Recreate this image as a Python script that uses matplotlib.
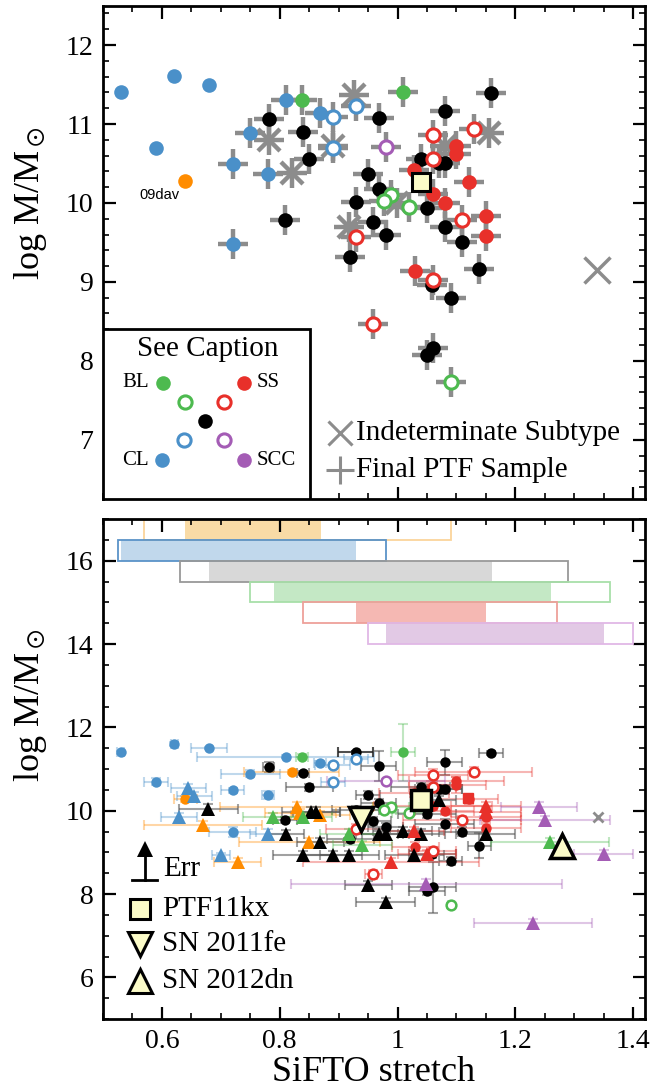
import matplotlib
matplotlib.use('Agg')
import matplotlib.pyplot as plt
from matplotlib.ticker import MultipleLocator
from matplotlib.patches import Rectangle

plt.rcParams['font.family'] = ['Liberation Serif', 'DejaVu Serif']
plt.rcParams['mathtext.fontset'] = 'stix'

C_CL = '#4a90c9'
C_BL = '#4dba4f'
C_SS = '#e8302a'
C_SCC = '#a45cb5'
C_OR = '#ff8c00'
C_K = '#000000'
C_GR = '#8c8c8c'
C_YEL = '#fbfbc8'

# ---------------- data: PTF sample (circles) ----------------
cl_x = [0.530, 0.621, 0.680, 0.590, 0.720, 0.720, 0.750, 0.780, 0.810, 0.869]
cl_y = [11.40, 11.61, 11.50, 10.70, 10.49, 9.48, 10.89, 10.37, 11.30, 11.14]
cl_xerr = [0.006, 0.006, 0.03, 0.02, 0.02, 0.04, 0.05, 0.01, 0.15, 0.01]
cl_yerr = [0.03, 0.05, 0.03, 0.08, 0.06, 0.12, 0.08, 0.10, 0.03, 0.05]
cl_cross = [0, 0, 0, 0, 1, 1, 1, 1, 1, 1]

clo_x = [0.890, 0.929, 0.890]
clo_y = [11.09, 11.23, 10.70]
clo_xerr = [0.03, 0.02, 0.02]
clo_yerr = [0.05, 0.05, 0.05]

bl_x = [0.838, 1.009]
bl_y = [11.30, 11.40]
bl_xerr = [0.01, 0.02]
bl_yerr = [0.05, 0.68]

blo_x = [0.989, 0.977, 1.020, 1.090]
blo_y = [10.10, 10.02, 9.95, 7.73]
blo_xerr = [0.03, 0.02, 0.03, 0.005]
blo_yerr = [0.05, 0.05, 0.05, 0.06]

k_x = [0.781, 0.839, 0.850, 0.809, 0.968, 0.950, 0.968, 0.929, 0.959, 0.920,
       1.159, 1.080, 1.039, 1.080, 1.070, 1.050, 0.980, 1.080, 1.110, 1.139,
       1.059, 1.090, 1.060, 1.050]
k_y = [11.06, 10.90, 10.56, 9.78, 11.08, 10.37, 10.18, 10.01, 9.76, 9.32,
       11.39, 11.16, 10.56, 10.51, 10.51, 9.93, 9.60, 9.69, 9.50, 9.16,
       8.96, 8.79, 8.16, 8.07]
k_xerr = [0.01, 0.01, 0.04, 0.02, 0.03, 0.02, 0.03, 0.04, 0.03, 0.04,
          0.02, 0.03, 0.05, 0.03, 0.04, 0.05, 0.03, 0.05, 0.04, 0.02,
          0.04, 0.02, 0.04, 0.03]
k_yerr = [0.12, 0.05, 0.08, 0.08, 0.36, 0.10, 0.10, 0.10, 0.10, 0.10,
          0.05, 0.30, 0.10, 0.10, 0.10, 0.10, 0.10, 0.10, 0.10, 0.30,
          0.10, 0.10, 0.62, 0.10]

sso_x = [0.929, 1.129, 1.060, 1.060, 1.109, 1.060, 0.959]
sso_y = [9.57, 10.94, 10.86, 10.56, 9.78, 9.03, 8.47]
sso_xerr = [0.05, 0.10, 0.06, 0.04, 0.10, 0.04, 0.015]
sso_yerr = [0.10, 0.10, 0.15, 0.10, 0.10, 0.10, 0.10]

ss_x = [1.100, 1.100, 1.028, 1.121, 1.060, 1.080, 1.150, 1.150, 1.030]
ss_y = [10.72, 10.62, 10.42, 10.27, 10.11, 10.00, 9.84, 9.58, 9.14]
ss_xerr = [0.08, 0.05, 0.06, 0.05, 0.10, 0.05, 0.06, 0.06, 0.04]
ss_yerr = [0.10, 0.20, 0.10, 0.10, 0.10, 0.10, 0.10, 0.10, 0.10]

scco_x = [0.980]
scco_y = [10.71]
scco_xerr = [0.10]
scco_yerr = [0.05]

or_x = [0.640]
or_y = [10.28]
or_xerr = [0.02]
or_yerr = [0.08]

# indeterminate subtype in final sample (asterisks) and outside (big x)
ind_x = [0.926, 0.781, 0.820, 0.890, 0.917, 1.156, 1.081, 0.999]
ind_y = [11.37, 10.80, 10.38, 10.72, 9.70, 10.89, 10.72, 10.00]
indx_x = [1.339]
indx_y = [9.15]

ptf11kx_x = [1.040]
ptf11kx_y = [10.26]

# bottom-panel only extras
or2_x = [0.820]
or2_y = [10.93]
or2_xerr = [0.08]
k2_x = [0.929]
k2_y = [11.40]
k2_xerr = [0.03]
sq_x = [1.119]
sq_y = [10.30]
gx_x = [1.340]
gx_y = [9.85]

# ---------------- data: comparison sample (triangles) ----------------
tcl_x = [0.645, 0.655, 0.629, 0.780, 0.700]
tcl_y = [10.55, 10.35, 9.85, 9.45, 8.93]
tcl_xerr = [0.03, 0.03, 0.03, 0.03, 0.015]
tcl_yerr = [0.10, 0.10, 0.10, 0.10, 0.05]

tor_x = [0.670, 0.729, 0.829, 0.835, 0.869, 0.850]
tor_y = [9.65, 8.77, 10.10, 9.95, 9.90, 9.25]
tor_xerr = [0.10, 0.04, 0.13, 0.06, 0.05, 0.12]
tor_yerr = [0.10, 0.10, 0.10, 0.10, 0.10, 0.10]

tk_x = [0.679, 0.811, 0.853, 0.862, 0.869, 0.839, 0.890, 0.918, 0.950, 0.980,
        0.969, 0.980, 1.009, 1.040, 1.028, 1.070, 1.150]
tk_y = [10.05, 9.43, 9.98, 9.98, 9.25, 8.93, 8.93, 8.93, 8.22, 7.80,
        9.45, 9.45, 9.52, 9.45, 8.93, 10.25, 9.43]
tk_xerr = [0.05, 0.03, 0.05, 0.04, 0.04, 0.05, 0.05, 0.05, 0.04, 0.05,
           0.04, 0.04, 0.05, 0.04, 0.05, 0.03, 0.05]
tk_yerr = [0.10, 0.10, 0.10, 0.10, 0.10, 0.10, 0.10, 0.10, 0.10, 0.10,
           0.10, 0.10, 0.10, 0.10, 0.10, 0.10, 0.10]

tbl_x = [0.788, 0.839, 0.918, 0.940, 1.259]
tbl_y = [9.85, 9.85, 9.45, 9.18, 9.25]
tbl_xerr = [0.05, 0.05, 0.05, 0.05, 0.10]
tbl_yerr = [0.10, 0.10, 0.10, 0.10, 0.10]

tss_x = [1.150, 1.150, 1.028, 0.989, 1.050]
tss_y = [10.12, 9.98, 9.52, 8.77, 8.96]
tss_xerr = [0.06, 0.06, 0.05, 0.15, 0.05]
tss_yerr = [0.10, 0.10, 0.10, 0.10, 0.10]

tscc_x = [1.240, 1.250, 1.350, 1.049, 1.230]
tscc_y = [10.10, 9.78, 8.95, 8.25, 7.30]
tscc_xerr = [0.065, 0.11, 0.05, 0.23, 0.10]
tscc_yerr = [0.10, 0.10, 0.10, 0.10, 0.10]

sn11fe_x = [0.938]
sn11fe_y = [9.79]
sn12dn_x = [1.279]
sn12dn_y = [9.15]

# ---------------- data: stretch ranges per subgroup ----------------
bar_y = [16.5, 16.0, 15.5, 15.0, 14.5, 14.0]
bar_lo_outer = [0.57, 0.525, 0.63, 0.75, 0.84, 0.95]
bar_hi_outer = [1.09, 0.98, 1.29, 1.36, 1.27, 1.40]
bar_lo_inner = [0.64, 0.53, 0.68, 0.79, 0.93, 0.98]
bar_hi_inner = [0.87, 0.93, 1.16, 1.26, 1.15, 1.35]
bar_fill = ['#f9dba6', '#c1d8ec', '#d8d8d8', '#c4e8c5', '#f5b8b3', '#e2c9e5']
bar_edge = ['#fbd49b', '#5a93c8', '#999999', '#a8dfa9', '#eea09a', '#e0b8e6']

xticks = [0.6, 0.8, 1.0, 1.2, 1.4]
xticklabels = ['0.6', '0.8', '1', '1.2', '1.4']

# ---------------- figure ----------------
fig = plt.figure(figsize=(6.65, 10.92), dpi=100)
ax1 = fig.add_axes([0.1549, 0.5430, 0.8150, 0.4519])
ax2 = fig.add_axes([0.1549, 0.0668, 0.8150, 0.4579])

def style(ax, ymaj, ymin_):
    ax.set_xlim(0.5, 1.42)
    ax.xaxis.set_major_locator(MultipleLocator(0.2))
    ax.xaxis.set_minor_locator(MultipleLocator(0.05))
    ax.yaxis.set_major_locator(MultipleLocator(ymaj))
    ax.yaxis.set_minor_locator(MultipleLocator(ymin_))
    ax.tick_params(which='both', direction='in', top=True, right=True,
                   labelsize=20, width=1.6)
    ax.tick_params(which='major', length=9)
    ax.tick_params(which='minor', length=4.5, width=1.2)
    ax.tick_params(axis='x', which='major', pad=7)
    ax.tick_params(axis='y', which='major', pad=7)
    for s in ax.spines.values():
        s.set_linewidth(2)

# ---- top panel ----
style(ax1, 1, 0.2)
ax1.set_ylim(6.25, 12.5)
ax1.set_xticks(xticks)
ax1.set_xticklabels([])

cross_x = [x for x, c in zip(cl_x, cl_cross) if c] + clo_x + bl_x + blo_x + k_x + sso_x + ss_x + scco_x + ind_x
cross_y = [y for y, c in zip(cl_y, cl_cross) if c] + clo_y + bl_y + blo_y + k_y + sso_y + ss_y + scco_y + ind_y
ax1.plot(cross_x, cross_y, ls='none', marker='+', ms=22, mew=3.2, color=C_GR, zorder=1)
ax1.plot(ind_x, ind_y, ls='none', marker='x', ms=16, mew=3.2, color=C_GR, zorder=1)
ax1.plot(indx_x, indx_y, ls='none', marker='x', ms=19, mew=2.5, color=C_GR, zorder=1)

def filled(ax, x, y, c, ms, z=3):
    ax.plot(x, y, ls='none', marker='o', ms=ms, mfc=c, mec=c, mew=0, zorder=z)

def opened(ax, x, y, c, ms, mew, z=3):
    ax.plot(x, y, ls='none', marker='o', ms=ms, mfc='white', mec=c, mew=mew, zorder=z)

filled(ax1, cl_x, cl_y, C_CL, 10.5)
filled(ax1, bl_x, bl_y, C_BL, 10.5)
filled(ax1, k_x, k_y, C_K, 10.5)
filled(ax1, ss_x, ss_y, C_SS, 10.5)
filled(ax1, or_x, or_y, C_OR, 10.5)
opened(ax1, clo_x, clo_y, C_CL, 9.5, 2.2)
opened(ax1, blo_x, blo_y, C_BL, 9.5, 2.2)
opened(ax1, sso_x, sso_y, C_SS, 9.5, 2.2)
opened(ax1, scco_x, scco_y, C_SCC, 9.5, 2.2)
ax1.plot(ptf11kx_x, ptf11kx_y, ls='none', marker='s', ms=13, mfc=C_YEL, mec='k', mew=2.2, zorder=5)
ax1.text(0.561, 10.10, '09dav', family=['Liberation Sans', 'DejaVu Sans'], fontsize=10.5,
         va='center', ha='left')
ax1.set_ylabel(r'log M/M$_\odot$', fontsize=26)
ax1.yaxis.set_label_coords(-0.10, 0.60)

# caption legend box
T = ax1.transAxes
ax1.add_patch(Rectangle((0, 0), 0.381, 0.3445, transform=T, facecolor='white',
                        edgecolor='k', lw=2, zorder=6))
ax1.text(0.194, 0.304, 'See Caption', transform=T, fontsize=21, ha='center', va='center', zorder=7)
leg_pts = [(0.110, 0.2357, C_BL, 1), (0.152, 0.196, C_BL, 0), (0.1885, 0.159, C_K, 1),
           (0.224, 0.196, C_SS, 0), (0.261, 0.2357, C_SS, 1), (0.150, 0.1196, C_CL, 0),
           (0.224, 0.1196, C_SCC, 0), (0.1086, 0.079, C_CL, 1), (0.261, 0.079, C_SCC, 1)]
for lx, ly, lc, lf in leg_pts:
    if lf:
        ax1.plot([lx], [ly], marker='o', ms=10.5, mfc=lc, mec=lc, mew=0, transform=T, zorder=7)
    else:
        ax1.plot([lx], [ly], marker='o', ms=9.5, mfc='white', mec=lc, mew=2.2, transform=T, zorder=7)
ax1.text(0.085, 0.2357, 'BL', transform=T, fontsize=15, ha='right', va='center', zorder=7)
ax1.text(0.284, 0.2357, 'SS', transform=T, fontsize=15, ha='left', va='center', zorder=7)
ax1.text(0.085, 0.079, 'CL', transform=T, fontsize=15, ha='right', va='center', zorder=7)
ax1.text(0.284, 0.079, 'SCC', transform=T, fontsize=15, ha='left', va='center', zorder=7)

ax1.plot([0.4375], [0.133], marker='x', ms=17, mew=2.2, color=C_GR, transform=T)
ax1.plot([0.4375], [0.0588], marker='+', ms=20, mew=2.2, color=C_GR, transform=T)
ax1.text(0.466, 0.133, 'Indeterminate Subtype', transform=T, fontsize=21, ha='left', va='center')
ax1.text(0.466, 0.0588, 'Final PTF Sample', transform=T, fontsize=21, ha='left', va='center')

# ---- bottom panel ----
style(ax2, 2, 0.5)
ax2.set_ylim(5, 17)
ax2.set_xticks(xticks)
ax2.set_xticklabels(xticklabels)
ax2.set_xlabel('SiFTO stretch', fontsize=26)
ax2.xaxis.set_label_coords(0.5, -0.073)
ax2.set_ylabel(r'log M/M$_\odot$', fontsize=26)
ax2.yaxis.set_label_coords(-0.10, 0.628)

heights = [0.5] * len(bar_y)
ax2.barh(bar_y, [h - l for l, h in zip(bar_lo_inner, bar_hi_inner)], left=bar_lo_inner,
         height=heights, align='edge', color=bar_fill, edgecolor='none', zorder=1)
ax2.barh(bar_y, [h - l for l, h in zip(bar_lo_outer, bar_hi_outer)], left=bar_lo_outer,
         height=heights, align='edge', color='none', edgecolor=bar_edge, lw=1.3, zorder=2)

ebk = dict(ls='none', capsize=3.5, elinewidth=1.5, capthick=1.5, zorder=2)
def errs(ax, x, y, xe, ye, c, a=0.35):
    ax.errorbar(x, y, xerr=xe, yerr=ye, ecolor=c, alpha=a, marker='none', **ebk)

errs(ax2, cl_x, cl_y, cl_xerr, cl_yerr, C_CL)
errs(ax2, clo_x, clo_y, clo_xerr, clo_yerr, C_CL)
errs(ax2, bl_x, bl_y, bl_xerr, bl_yerr, C_BL)
errs(ax2, blo_x, blo_y, blo_xerr, blo_yerr, C_BL)
errs(ax2, k_x, k_y, k_xerr, k_yerr, '#555555', 0.55)
errs(ax2, sso_x, sso_y, sso_xerr, sso_yerr, C_SS)
errs(ax2, ss_x, ss_y, ss_xerr, ss_yerr, C_SS)
errs(ax2, scco_x, scco_y, scco_xerr, scco_yerr, C_SCC)
errs(ax2, or_x, or_y, or_xerr, or_yerr, C_OR)
errs(ax2, or2_x, or2_y, or2_xerr, [0.05], C_OR)
errs(ax2, k2_x, k2_y, k2_xerr, [0.03], '#222222', 0.8)
errs(ax2, tcl_x, tcl_y, tcl_xerr, tcl_yerr, C_CL)
errs(ax2, tor_x, tor_y, tor_xerr, tor_yerr, C_OR)
errs(ax2, tk_x, tk_y, tk_xerr, tk_yerr, '#555555', 0.55)
errs(ax2, tbl_x, tbl_y, tbl_xerr, tbl_yerr, C_BL)
errs(ax2, tss_x, tss_y, tss_xerr, tss_yerr, C_SS)
errs(ax2, tscc_x, tscc_y, tscc_xerr, tscc_yerr, C_SCC)

ms_c = 7.5
filled(ax2, cl_x, cl_y, C_CL, ms_c)
filled(ax2, bl_x, bl_y, C_BL, ms_c)
filled(ax2, k_x, k_y, C_K, ms_c)
filled(ax2, k2_x, k2_y, C_K, ms_c)
filled(ax2, ss_x, ss_y, C_SS, ms_c)
filled(ax2, or_x, or_y, C_OR, ms_c)
filled(ax2, or2_x, or2_y, C_OR, ms_c)
opened(ax2, clo_x, clo_y, C_CL, 7, 1.8)
opened(ax2, blo_x, blo_y, C_BL, 7, 1.8)
opened(ax2, sso_x, sso_y, C_SS, 7, 1.8)
opened(ax2, scco_x, scco_y, C_SCC, 7, 1.8)
ax2.plot(sq_x, sq_y, ls='none', marker='s', ms=6.5, color=C_SS, zorder=3)
ax2.plot(gx_x, gx_y, ls='none', marker='x', ms=7, mew=2, color=C_GR, zorder=3)

def tri(ax, x, y, c, ms=9.5):
    ax.plot(x, y, ls='none', marker='^', ms=ms, mfc=c, mec=c, mew=0, zorder=4)
tri(ax2, tcl_x, tcl_y, C_CL)
tri(ax2, tor_x, tor_y, C_OR)
tri(ax2, tk_x, tk_y, C_K)
tri(ax2, tbl_x, tbl_y, C_BL)
tri(ax2, tss_x, tss_y, C_SS)
tri(ax2, tscc_x, tscc_y, C_SCC)

ax2.plot(ptf11kx_x, ptf11kx_y, ls='none', marker='s', ms=15, mfc=C_YEL, mec='k', mew=2.5, zorder=6)
ax2.plot(sn11fe_x, sn11fe_y, ls='none', marker='v', ms=17, mfc=C_YEL, mec='k', mew=2.5, zorder=6)
ax2.plot(sn12dn_x, sn12dn_y, ls='none', marker='^', ms=17, mfc=C_YEL, mec='k', mew=2.5, zorder=6)

# bottom legend
T2 = ax2.transAxes
ax2.plot([0.077, 0.077], [0.278, 0.34], color='k', lw=2, transform=T2)
ax2.plot([0.054, 0.100], [0.278, 0.278], color='k', lw=2, transform=T2)
ax2.plot([0.077], [0.34], marker='^', ms=12, color='k', mew=0, transform=T2)
ax2.text(0.111, 0.300, 'Err', transform=T2, fontsize=21, ha='left', va='center')
ax2.plot([0.069], [0.221], marker='s', ms=15, mfc=C_YEL, mec='k', mew=2.2, transform=T2)
ax2.text(0.109, 0.221, 'PTF11kx', transform=T2, fontsize=21, ha='left', va='center')
ax2.plot([0.069], [0.150], marker='v', ms=17, mfc=C_YEL, mec='k', mew=2.2, transform=T2)
ax2.text(0.109, 0.150, 'SN 2011fe', transform=T2, fontsize=21, ha='left', va='center')
ax2.plot([0.069], [0.076], marker='^', ms=17, mfc=C_YEL, mec='k', mew=2.2, transform=T2)
ax2.text(0.109, 0.076, 'SN 2012dn', transform=T2, fontsize=21, ha='left', va='center')

fig.savefig('out.png', dpi=100)
